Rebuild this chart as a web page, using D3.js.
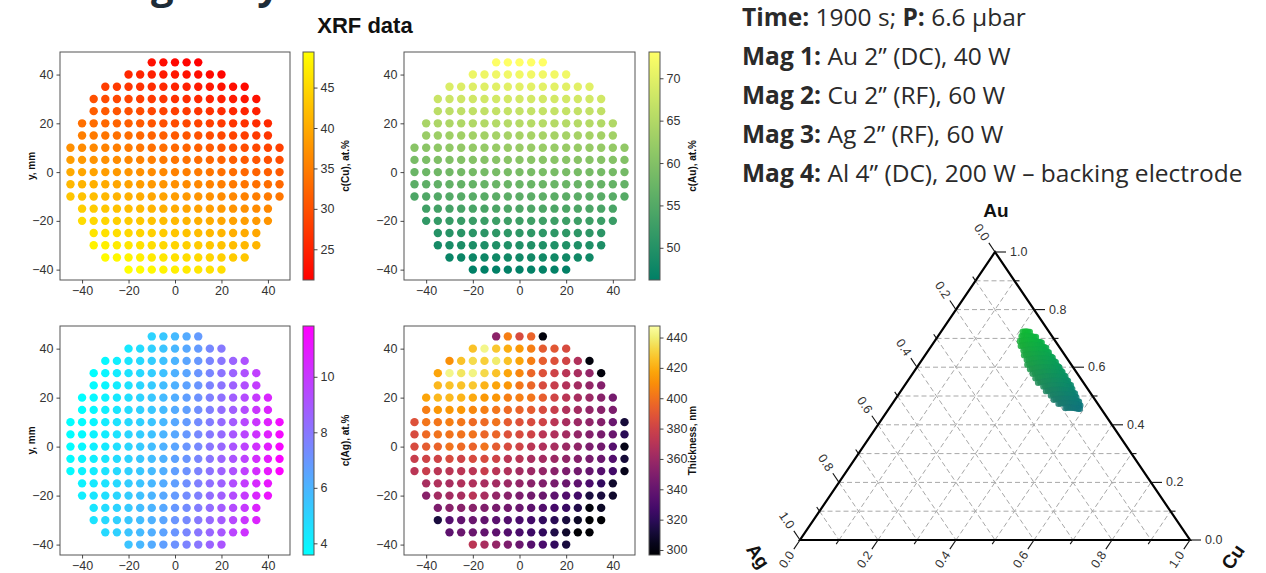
<!DOCTYPE html>
<html><head><meta charset="utf-8">
<script src="https://cdn.jsdelivr.net/npm/d3@7"></script>
<style>body{margin:0;background:#fff}svg{display:block}</style>
</head><body><svg id="c" width="1266" height="573"></svg>
<script>
// ---------- DATA ----------
const rowY    = [45,40,35,30,25,20,15,10,5,0,-5,-10,-15,-20,-25,-30,-35,-40];
const rowXmin = [-10,-20,-30,-35,-35,-40,-40,-45,-45,-45,-45,-45,-40,-40,-35,-35,-30,-20];
const xStep = 5;

const cuRows = [
 [23.0,22.6,22.1,21.7,21.2],
 [25.5,25.2,24.6,24.1,23.7,23.1,22.7,22.1,21.7],
 [28.0,27.6,27.2,26.6,26.1,25.7,25.1,24.6,24.2,23.6,23.1,22.7,22.2],
 [30.1,29.5,29.1,28.7,28.1,27.6,27.2,26.6,26.1,25.7,25.1,24.6,24.2,23.6,23.2],
 [31.6,31.2,30.6,30.1,29.7,29.1,28.6,28.2,27.6,27.1,26.7,26.1,25.6,25.2,24.7],
 [33.5,33.1,32.7,32.1,31.6,31.2,30.6,30.1,29.7,29.1,28.6,28.2,27.6,27.1,26.7,26.1,25.7],
 [35.1,34.7,34.1,33.6,33.2,32.6,32.1,31.7,31.1,30.6,30.2,29.6,29.1,28.7,28.1,27.6,27.2],
 [37.0,36.6,36.2,35.6,35.1,34.7,34.1,33.6,33.2,32.6,32.1,31.7,31.1,30.6,30.2,29.6,29.1,28.7,28.2],
 [38.6,38.2,37.6,37.1,36.7,36.1,35.6,35.2,34.6,34.1,33.7,33.1,32.6,32.2,31.6,31.1,30.7,30.1,29.7],
 [40.0,39.6,39.2,38.6,38.1,37.7,37.1,36.6,36.2,35.6,35.1,34.7,34.1,33.6,33.2,32.6,32.1,31.7,31.2],
 [41.5,41.1,40.7,40.1,39.6,39.2,38.6,38.1,37.7,37.1,36.6,36.2,35.6,35.1,34.7,34.1,33.6,33.2,32.7],
 [43.0,42.6,42.2,41.6,41.1,40.7,40.1,39.6,39.2,38.6,38.1,37.7,37.1,36.6,36.2,35.6,35.1,34.7,34.2],
 [44.0,43.6,43.2,42.6,42.1,41.7,41.1,40.6,40.2,39.6,39.1,38.7,38.1,37.6,37.2,36.6,36.2],
 [45.5,45.1,44.7,44.1,43.6,43.2,42.6,42.1,41.7,41.1,40.6,40.2,39.6,39.1,38.7,38.1,37.7],
 [46.5,46.1,45.7,45.1,44.6,44.2,43.6,43.1,42.7,42.1,41.6,41.2,40.6,40.1,39.7],
 [48.0,47.6,47.2,46.6,46.1,45.7,45.1,44.6,44.2,43.6,43.1,42.7,42.1,41.6,41.2],
 [49.0,48.6,48.2,47.6,47.1,46.7,46.1,45.6,45.2,44.6,44.1,43.7,43.2],
 [49.4,49.1,48.6,48.2,47.6,47.1,46.7,46.1,45.7]
];
const auRows = [
 [72.9,73.0,73.1,73.1,73.1],
 [71.2,71.3,71.5,71.6,71.6,71.7,71.7,71.7,71.6],
 [69.2,69.4,69.6,69.7,69.9,70.0,70.0,70.1,70.1,70.1,70.0,70.0,69.9],
 [67.4,67.7,67.9,68.1,68.2,68.4,68.5,68.5,68.5,68.5,68.5,68.5,68.4,68.4,68.2],
 [65.9,66.1,66.3,66.5,66.6,66.8,66.9,66.9,66.9,66.9,66.9,66.9,66.8,66.8,66.6],
 [64.0,64.3,64.5,64.7,64.9,65.0,65.2,65.3,65.3,65.4,65.4,65.3,65.3,65.3,65.2,65.0,64.9],
 [62.4,62.7,62.9,63.1,63.3,63.4,63.6,63.7,63.7,63.8,63.8,63.7,63.7,63.7,63.6,63.4,63.3],
 [60.6,60.9,61.2,61.4,61.6,61.8,61.9,62.1,62.2,62.2,62.2,62.3,62.2,62.2,62.1,62.0,61.9,61.8,61.6],
 [59.0,59.3,59.6,59.8,60.0,60.2,60.3,60.5,60.6,60.6,60.6,60.7,60.6,60.6,60.5,60.4,60.3,60.2,60.0],
 [57.4,57.7,58.0,58.2,58.4,58.6,58.7,58.9,59.0,59.0,59.0,59.1,59.0,59.0,58.9,58.8,58.7,58.6,58.4],
 [55.8,56.1,56.4,56.6,56.8,57.0,57.1,57.3,57.4,57.4,57.4,57.5,57.4,57.4,57.3,57.2,57.1,57.0,56.8],
 [54.3,54.6,54.9,55.1,55.3,55.5,55.6,55.8,55.9,55.9,55.9,56.0,55.9,55.9,55.8,55.7,55.6,55.5,55.3],
 [53.0,53.3,53.5,53.7,53.9,54.0,54.2,54.3,54.3,54.4,54.4,54.3,54.3,54.3,54.2,54.0,53.9],
 [51.4,51.7,51.9,52.1,52.3,52.4,52.6,52.7,52.7,52.8,52.8,52.7,52.7,52.7,52.6,52.4,52.3],
 [50.1,50.3,50.5,50.7,50.8,51.0,51.1,51.1,51.1,51.1,51.1,51.1,51.0,51.0,50.8],
 [48.5,48.8,49.0,49.2,49.3,49.5,49.6,49.6,49.6,49.6,49.6,49.6,49.5,49.5,49.3],
 [47.2,47.4,47.6,47.7,47.9,48.0,48.0,48.1,48.1,48.1,48.0,48.0,47.9],
 [46.0,46.1,46.3,46.4,46.4,46.5,46.5,46.5,46.4]
];
const agRows = [
 [5.0,5.4,5.8,6.3,6.8],
 [4.3,4.7,5.1,5.5,5.9,6.4,6.8,7.4,7.9],
 [3.8,4.1,4.4,4.8,5.2,5.6,6.0,6.5,6.9,7.5,8.0,8.6,9.2],
 [3.6,3.9,4.2,4.5,4.8,5.2,5.6,6.1,6.5,7.0,7.5,8.1,8.6,9.2,9.8],
 [3.7,3.9,4.2,4.5,4.9,5.3,5.7,6.1,6.6,7.0,7.6,8.1,8.7,9.3,9.9],
 [3.6,3.8,4.0,4.3,4.6,5.0,5.4,5.8,6.2,6.7,7.1,7.7,8.2,8.8,9.4,10.0,10.6],
 [3.6,3.8,4.1,4.4,4.7,5.1,5.4,5.8,6.3,6.7,7.2,7.7,8.3,8.8,9.4,10.1,10.7],
 [3.6,3.7,3.9,4.2,4.5,4.8,5.1,5.5,5.9,6.4,6.8,7.3,7.8,8.4,8.9,9.5,10.1,10.8,11.4],
 [3.6,3.7,4.0,4.2,4.5,4.9,5.2,5.6,6.0,6.4,6.9,7.4,7.9,8.4,9.0,9.6,10.2,10.8,11.5],
 [3.6,3.8,4.1,4.3,4.6,4.9,5.3,5.7,6.1,6.5,7.0,7.4,8.0,8.5,9.1,9.7,10.3,10.9,11.6],
 [3.7,3.9,4.1,4.4,4.7,5.0,5.4,5.7,6.1,6.6,7.0,7.5,8.0,8.6,9.1,9.7,10.4,11.0,11.7],
 [3.7,4.0,4.2,4.5,4.8,5.1,5.4,5.8,6.2,6.7,7.1,7.6,8.1,8.7,9.2,9.8,10.4,11.1,11.8],
 [4.0,4.3,4.5,4.8,5.2,5.5,5.9,6.3,6.7,7.2,7.7,8.2,8.7,9.3,9.9,10.5,11.1],
 [4.1,4.4,4.6,4.9,5.2,5.6,6.0,6.4,6.8,7.3,7.7,8.3,8.8,9.4,10.0,10.6,11.2],
 [4.4,4.7,5.0,5.3,5.7,6.0,6.4,6.9,7.3,7.8,8.3,8.9,9.4,10.0,10.7],
 [4.5,4.8,5.1,5.4,5.7,6.1,6.5,7.0,7.4,7.9,8.4,8.9,9.5,10.1,10.7],
 [4.8,5.1,5.5,5.8,6.2,6.6,7.0,7.5,8.0,8.5,9.0,9.6,10.2],
 [5.5,5.9,6.3,6.7,7.1,7.6,8.0,8.6,9.1]
];
const thickRows = [
 [354,405,384,395,300],
 [426,443,428,420,414,405,392,390,384],
 [411,426,434,430,439,426,417,405,393,387,381,368,300],
 [417,443,437,442,433,426,417,408,396,387,380,371,365,357,300],
 [423,426,426,428,422,417,413,402,396,384,377,369,363,357,351],
 [417,423,423,422,419,414,413,405,405,402,393,381,372,365,360,353,346],
 [405,413,413,413,408,405,402,398,395,392,384,377,368,363,357,353,348],
 [387,402,402,405,402,398,398,401,392,387,384,380,372,365,360,356,351,342,312],
 [384,398,401,401,401,401,396,396,387,384,380,372,368,363,357,351,347,342,319],
 [384,392,395,401,398,395,401,392,384,380,372,368,365,360,356,348,345,334,303],
 [377,380,380,384,380,384,384,380,372,371,365,363,360,356,351,347,342,333,312],
 [372,377,372,372,372,372,377,371,368,363,360,357,353,348,345,340,334,327,304],
 [365,368,365,368,368,365,363,360,357,353,350,347,342,337,330,322,309],
 [353,363,363,365,371,365,357,353,348,345,342,337,333,327,313,313,309],
 [348,353,353,353,350,347,345,342,337,333,328,324,316,300,307],
 [313,334,339,342,339,336,333,330,327,322,319,313,307,297,297],
 [337,342,342,339,337,333,330,325,321,315,309,297,298],
 [372,365,357,348,342,334,330,322,313]
];

const cuRange = [21.2, 49.4], auRange = [46.2, 73.1], agRange = [3.58, 11.83], thickRange = [296.7, 447.6];
const cuTicks = [25,30,35,40,45], auTicks = [50,55,60,65,70], agTicks = [4,6,8,10];
const thickTicks = [300,320,340,360,380,400,420,440];
const mapTicks = [-40,-20,0,20,40];
const ternTicks = [0,0.1,0.2,0.3,0.4,0.5,0.6,0.7,0.8,0.9,1.0];

const infoLines = [
  [["Time:",1],[" 1900 s; ",0],["P:",1],[" 6.6 µbar",0]],
  [["Mag 1:",1],[" Au 2” (DC), 40 W",0]],
  [["Mag 2:",1],[" Cu 2” (RF), 60 W",0]],
  [["Mag 3:",1],[" Ag 2” (RF), 60 W",0]],
  [["Mag 4:",1],[" Al 4” (DC), 200 W – backing electrode",0]]
];

// ---------- BUILD POINTS ----------
const points = [];
rowY.forEach((y, i) => {
  const n = Math.min(cuRows[i].length, auRows[i].length, agRows[i].length, thickRows[i].length);
  for (let j = 0; j < n; j++) {
    points.push({x: rowXmin[i] + xStep * j, y, cu: cuRows[i][j], au: auRows[i][j], ag: agRows[i][j], th: thickRows[i][j]});
  }
});

const FONT = '"Liberation Sans", Arial, Helvetica, sans-serif';
const svg = d3.select('#c');
const defs = svg.append('defs');

const cmaps = {
  autumn: t => d3.rgb(255, 255 * t, 0).toString(),
  summer: t => d3.rgb(255 * t, 255 * (0.5 + 0.5 * t), 102).toString(),
  cool: t => d3.rgb(255 * t, 255 * (1 - t), 255).toString(),
  inferno: d3.interpolateInferno
};

// heading fragment (cut off at top, as in the slide)
svg.append('text').attr('x', -8).attr('y', -1)
  .attr('font-family', '"Open Sans", sans-serif').attr('font-weight', 700).attr('font-size', 40)
  .attr('fill', '#1e2c38').text('Au-Cu-Ag alloy 1');

// title
svg.append('text').attr('x', 365).attr('y', 33).attr('text-anchor', 'middle')
  .attr('font-family', FONT).attr('font-weight', 700).attr('font-size', 22).attr('fill', '#111')
  .text('XRF data');

const panels = [
  {key:'cu', x0:60,  x1:290, y0:52,  y1:280, cbx:303, range:cuRange,    ticks:cuTicks,    cmap:cmaps.autumn,  label:'c(Cu), at.%',   lx:345, ylab:true},
  {key:'au', x0:404, x1:635, y0:52,  y1:280, cbx:649, range:auRange,    ticks:auTicks,    cmap:cmaps.summer,  label:'c(Au), at.%',   lx:692, ylab:false},
  {key:'ag', x0:60,  x1:290, y0:326, y1:555, cbx:303, range:agRange,    ticks:agTicks,    cmap:cmaps.cool,    label:'c(Ag), at.%',   lx:345, ylab:true},
  {key:'th', x0:404, x1:635, y0:326, y1:555, cbx:649, range:thickRange, ticks:thickTicks, cmap:cmaps.inferno, label:'Thickness, nm', lx:692, ylab:false}
];

function styleAxis(g) {
  g.attr('font-family', FONT).attr('font-size', 12.5);
  g.select('.domain').remove();
  g.selectAll('.tick line').attr('stroke', '#333').attr('stroke-width', 0.9);
  g.selectAll('.tick text').attr('fill', '#333');
}

panels.forEach((p, pi) => {
  const g = svg.append('g');
  const xs = d3.scaleLinear([-49.5, 49.5], [p.x0, p.x1]);
  const ys = d3.scaleLinear([-44.25, 49.25], [p.y1, p.y0]);
  const norm = d3.scaleLinear(p.range, [0, 1]).clamp(true);

  g.append('g').selectAll('circle').data(points).join('circle')
    .attr('cx', d => xs(d.x)).attr('cy', d => ys(d.y)).attr('r', 4.2)
    .attr('fill', d => p.cmap(norm(d[p.key])));

  g.append('rect').attr('x', p.x0).attr('y', p.y0).attr('width', p.x1 - p.x0).attr('height', p.y1 - p.y0)
    .attr('fill', 'none').attr('stroke', '#555').attr('stroke-width', 1);

  g.append('g').attr('transform', `translate(0,${p.y1})`)
    .call(d3.axisBottom(xs).tickValues(mapTicks).tickSize(3.5).tickPadding(3)).call(styleAxis);
  g.append('g').attr('transform', `translate(${p.x0},0)`)
    .call(d3.axisLeft(ys).tickValues(mapTicks).tickSize(3.5).tickPadding(3)).call(styleAxis);

  if (p.ylab) {
    g.append('text').attr('transform', `translate(35,${(p.y0 + p.y1) / 2}) rotate(-90)`)
      .attr('text-anchor', 'middle').attr('font-family', FONT).attr('font-weight', 700)
      .attr('font-size', 10).attr('fill', '#111').text('y, mm');
  }

  // colorbar
  const gid = 'cbg' + pi;
  const grad = defs.append('linearGradient').attr('id', gid).attr('x1', 0).attr('y1', 1).attr('x2', 0).attr('y2', 0);
  d3.range(0, 1.0001, 0.05).forEach(t => grad.append('stop').attr('offset', t).attr('stop-color', p.cmap(t)));
  const cbw = 11;
  g.append('rect').attr('x', p.cbx).attr('y', p.y0).attr('width', cbw).attr('height', p.y1 - p.y0)
    .attr('fill', `url(#${gid})`).attr('stroke', '#555').attr('stroke-width', 1);
  const cs = d3.scaleLinear(p.range, [p.y1, p.y0]);
  g.append('g').attr('transform', `translate(${p.cbx + cbw},0)`)
    .call(d3.axisRight(cs).tickValues(p.ticks).tickSize(3.5).tickPadding(3)).call(styleAxis);
  g.append('text').attr('transform', `translate(${p.lx},${(p.y0 + p.y1) / 2}) rotate(-90)`)
    .attr('text-anchor', 'middle').attr('dominant-baseline', 'central').attr('font-family', FONT)
    .attr('font-weight', 700).attr('font-size', 10).attr('fill', '#111').text(p.label);
});

// ---------- TERNARY ----------
const tg = svg.append('g');
const auY = d3.scaleLinear([0, 1], [540, 252]);
const baseX = d3.scaleLinear([0, 1], [800, 1190]);
function tern(au, cu, ag) {
  const s = au + cu + ag;
  const a = au / s, c = cu / s;
  return [baseX(c + a / 2), auY(a)];
}
const pA = tern(1,0,0), pL = tern(0,0,1), pR = tern(0,1,0);
const line = d3.line();

// grid
const gridG = tg.append('g').attr('stroke', '#a8a8a8').attr('stroke-width', 1).attr('stroke-dasharray', '5,3').attr('fill', 'none');
ternTicks.slice(1, -1).forEach(v => {
  gridG.append('path').attr('d', line([tern(v, 0, 1 - v), tern(v, 1 - v, 0)]));
  gridG.append('path').attr('d', line([tern(0, v, 1 - v), tern(1 - v, v, 0)]));
  gridG.append('path').attr('d', line([tern(1 - v, 0, v), tern(0, 1 - v, v)]));
});

// scatter
tg.append('g').selectAll('circle').data(points).join('circle')
  .attr('cx', d => tern(d.au, d.cu, d.ag)[0]).attr('cy', d => tern(d.au, d.cu, d.ag)[1])
  .attr('r', 3.2).attr('opacity', 0.85)
  .attr('fill', d => { const s = d.au + d.cu + d.ag; return d3.rgb(255 * d.ag / s, 255 * d.au / s, 255 * d.cu / s).toString(); });

// frame
tg.append('path').attr('d', line([pA, pR, pL]) + 'Z').attr('fill', 'none').attr('stroke', '#000')
  .attr('stroke-width', 2.2).attr('stroke-linejoin', 'miter');

// ticks
const fmt = d3.format('.1f');
function unit(v) { const l = Math.hypot(v[0], v[1]); return [v[0] / l, v[1] / l]; }
const dirR = [1, 0];
const dirL = unit([pA[0] - pR[0], pA[1] - pR[1]]);
const dirB = unit([pL[0] - pA[0], pL[1] - pA[1]]);
const angL = Math.atan2(-dirL[1], -dirL[0]) * 180 / Math.PI;
const angB = Math.atan2(-dirB[1], -dirB[0]) * 180 / Math.PI;
const tickG = tg.append('g').attr('stroke', '#111').attr('stroke-width', 1.1);
const labG = tg.append('g').attr('font-family', FONT).attr('font-size', 12.5).attr('fill', '#333');
ternTicks.forEach((v, i) => {
  const major = i % 2 === 0;
  const len = major ? 11 : 5;
  const axes = [
    {p: tern(v, 1 - v, 0), d: dirR, ang: 0, anchor: 'start'},
    {p: tern(1 - v, 0, v), d: dirL, ang: angL, anchor: 'end'},
    {p: tern(0, v, 1 - v), d: dirB, ang: angB, anchor: 'end'}
  ];
  axes.forEach(a => {
    const e = [a.p[0] + a.d[0] * len, a.p[1] + a.d[1] * len];
    tickG.append('path').attr('d', line([a.p, e]));
    if (major) {
      const q = [a.p[0] + a.d[0] * (len + 4), a.p[1] + a.d[1] * (len + 4)];
      labG.append('text').attr('transform', `translate(${q[0]},${q[1]}) rotate(${a.ang})`)
        .attr('text-anchor', a.anchor).attr('dominant-baseline', 'central').text(fmt(v));
    }
  });
});

// corner labels
const cornerLabels = [
  {t: 'Au', x: pA[0] + 1, y: 210, r: 0},
  {t: 'Ag', x: pL[0] - 42, y: pL[1] + 16, r: angL},
  {t: 'Cu', x: pR[0] + 43, y: pR[1] + 17, r: angB}
];
cornerLabels.forEach(c => {
  tg.append('text').attr('transform', `translate(${c.x},${c.y}) rotate(${c.r})`)
    .attr('text-anchor', 'middle').attr('dominant-baseline', 'central')
    .attr('font-family', FONT).attr('font-weight', 700).attr('font-size', 19).attr('fill', '#111').text(c.t);
});

// ---------- INFO TEXT ----------
const info = svg.append('g').attr('font-family', '"Open Sans", sans-serif').attr('font-size', 24.5).attr('fill', '#2a2a2a');
infoLines.forEach((ln, i) => {
  const t = info.append('text').attr('x', 742).attr('y', 26 + i * 39).attr('xml:space', 'preserve');
  ln.forEach(([s, b]) => t.append('tspan').attr('font-weight', b ? 700 : 400).text(s));
});
</script></body></html>
